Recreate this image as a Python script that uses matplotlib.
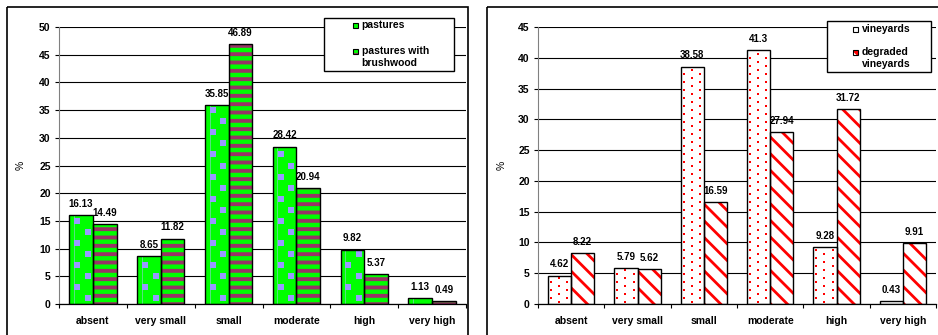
import matplotlib
matplotlib.use('Agg')
import matplotlib.pyplot as plt
import matplotlib.transforms as mtransforms
from matplotlib.patches import Rectangle
import numpy as np

# Erosion classes and shares (%) per land use
categories = ['absent', 'very small', 'small', 'moderate', 'high', 'very high']

pastures = [16.13, 8.65, 35.85, 28.42, 9.82, 1.13]
pastures_brushwood = [14.49, 11.82, 46.89, 20.94, 5.37, 0.49]

vineyards = [4.62, 5.79, 38.58, 41.3, 9.28, 0.43]
vineyards_degraded = [8.22, 5.62, 16.59, 27.94, 31.72, 9.91]

W, H = 938, 335
plt.rcParams['font.family'] = ['Liberation Sans', 'DejaVu Sans']
plt.rcParams['font.weight'] = 'bold'

GREEN = '#00FF00'
MAROON = '#993366'
LAVENDER = '#9999FF'
RED = '#FF0000'

fig = plt.figure(figsize=(W / 100, H / 100), dpi=100)
# pixel coordinates measured from the top-left corner
px = mtransforms.Affine2D().scale(1 / W, -1 / H).translate(0, 1) + fig.transFigure


def bar_series(ax, x, heights, face, width=0.35, hatch=None, hatch_color=None, hatch_lw=1.0):
    with plt.rc_context({'hatch.linewidth': hatch_lw}):
        bars = ax.bar(x, heights, width, color=face,
                      edgecolor=hatch_color if hatch else face,
                      linewidth=0, hatch=hatch, zorder=2)
    for b in bars:
        if hatch and hasattr(b, 'set_hatch_linewidth'):
            b.set_hatch_linewidth(hatch_lw)
    ax.bar(x, heights, width, facecolor='none', edgecolor='black',
           linewidth=1.0, zorder=4)
    for xi, v in zip(x, heights):
        ax.annotate(f'{v:g}', (xi, v), xytext=(0, 8), textcoords='offset points',
                    ha='center', va='center', fontsize=7, zorder=5)
    return bars


def texture(ax, x, heights, cols, step, color, size, margin, width=0.35):
    # small square fill pattern laid out inside each bar
    tx, ty = [], []
    for xc, h in zip(x, heights):
        left = xc - width / 2
        k = 0
        y = step / 2
        while y + margin <= h:
            for c in cols[k % len(cols)]:
                tx.append(left + c * width)
                ty.append(y)
            k += 1
            y += step
    ax.scatter(tx, ty, marker='s', s=size ** 2, c=color, linewidths=0, zorder=3)


def setup(ax, left_px, right_px, ymax, step):
    ax.set_position([left_px / W, (H - 304) / H, (right_px - left_px) / W, (304 - 27) / H])
    ax.set_xlim(-0.5, 5.5)
    ax.set_ylim(0, ymax)
    ax.set_yticks(np.arange(0, ymax + 1, step))
    ax.yaxis.grid(True, color='black', lw=0.8)
    ax.set_axisbelow(True)
    for s in ['top', 'right']:
        ax.spines[s].set_visible(False)
    ax.spines['left'].set_color('#808080')
    ax.spines['bottom'].set_linewidth(0.9)
    ax.set_xticks(range(len(categories)))
    ax.set_xticklabels(categories)
    ax.set_xticks(np.arange(-0.5, len(categories), 1), minor=True)
    ax.tick_params(axis='x', which='major', length=0, pad=8.5, labelsize=7.5)
    ax.tick_params(axis='x', which='minor', length=3, width=0.8, direction='out')
    ax.tick_params(axis='y', length=3, width=0.8, pad=3, labelsize=7.5)
    ax.set_ylabel('%', fontsize=7.5)


x = np.arange(len(categories))
w = 0.35

# left panel: pastures
ax1 = fig.add_axes([0, 0, 1, 1])
setup(ax1, 59, 466, 50, 5)
ax1.yaxis.set_label_coords(-0.081, 0.5)
bar_series(ax1, x - w / 2, pastures, GREEN)
ax1.vlines(x - w / 2 - w * 0.3, 0, pastures, color='#66DD99', lw=0.6, zorder=2.5)
texture(ax1, x - w / 2, pastures, [[0.78], [0.33]], 2.0, LAVENDER, 3.8, 0.5)
bar_series(ax1, x + w / 2, pastures_brushwood, GREEN, hatch='--', hatch_color=MAROON, hatch_lw=2.8)

# right panel: vineyards
ax2 = fig.add_axes([0, 0, 1, 1])
setup(ax2, 538, 936, 45, 5)
ax2.yaxis.set_label_coords(-0.078, 0.5)
bar_series(ax2, x - w / 2, vineyards, 'white')
texture(ax2, x - w / 2, vineyards, [[0.48], [0.13, 0.84]], 0.65, RED, 1.7, 0.25)
bar_series(ax2, x + w / 2, vineyards_degraded, 'white', hatch='\\\\', hatch_color=RED, hatch_lw=2.0)

# panel frames
fig.add_artist(Rectangle((7, 7), 461, 400, transform=px, fill=False, lw=1.2, ec='black'))
fig.add_artist(Rectangle((487, 7), 460, 400, transform=px, fill=False, lw=1.2, ec='black'))


def legend_box(box, entries):
    x0, y0, bw, bh = box
    fig.add_artist(Rectangle((x0, y0), bw, bh, transform=px, fc='white', ec='black', lw=1.0))
    for (hx, hy), face, hatch, hcol, lines in entries:
        with plt.rc_context({'hatch.linewidth': 1.5}):
            fig.add_artist(Rectangle((hx, hy), 5, 5, transform=px, fc=face, ec=hcol,
                                     lw=0, hatch=hatch))
        fig.add_artist(Rectangle((hx, hy), 5, 5, transform=px, fill=False, ec='black', lw=0.8))
        for i, line in enumerate(lines):
            fig.text(hx + 9, hy + 2.5 + i * 12, line, transform=px, ha='left',
                     va='center', fontsize=7.5)


legend_box((324, 18, 130, 53), [
    ((352.5, 23), GREEN, None, GREEN, ['pastures']),
    ((352.5, 48.5), GREEN, '--', MAROON, ['pastures with', 'brushwood']),
])
legend_box((827, 21, 104, 51), [
    ((852.5, 26.5), 'white', None, 'white', ['vineyards']),
    ((852.5, 49.5), RED, '\\\\', 'white', ['degraded', 'vineyards']),
])

fig.savefig('out.png', dpi=100)
